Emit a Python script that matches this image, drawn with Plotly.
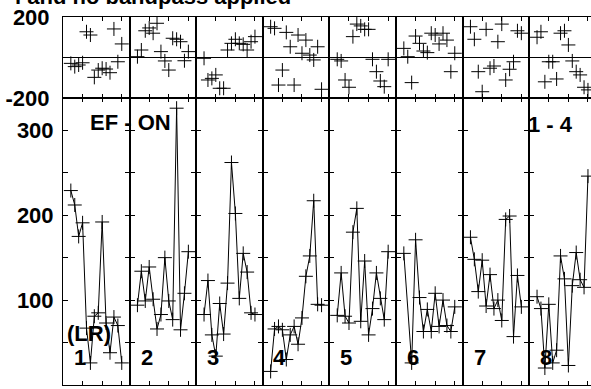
import plotly.graph_objects as go

# measurement slot index within each of the 8 panels
x_slots = list(range(2, 16))
x_slots6 = [2] + list(range(4, 16))

# bottom: amplitude series per panel
amp1 = [229, 212, 175, 191, 67, 26, 81, 85, 192, 73, 38, 80, 70, 26]
amp2 = [94, 134, 99, 139, 101, 66, 83, 150, 99, 77, 326, 65, 108, 157]
amp3 = [83, 123, 59, 34, 96, 60, 120, 262, 202, 102, 155, 133, 85, 83]
amp4 = [16, 66, 69, 65, 30, 59, 69, 48, 79, 128, 152, 217, 95, 94]
amp5 = [82, 132, 81, 73, 180, 208, 75, 146, 59, 90, 132, 102, 77, 157]
amp6 = [155, 26, 171, 103, 63, 89, 63, 108, 69, 100, 70, 63, 92]
amp7 = [174, 148, 110, 147, 93, 130, 90, 100, 76, 195, 199, 57, 129, 92]
amp8 = [104, 90, 20, 95, 26, 41, 152, 125, 23, 117, 156, 124, 115, 246]

# top: phase series per panel
ph1 = [-29, -45, -37, -26, 127, 111, -98, -62, -53, -57, -75, 141, -21, 67]
ph2 = [4, 37, 132, 146, 120, 169, 29, -17, -62, 95, 90, 78, -16, 29]
ph3 = [-4, -111, -103, -86, -152, -152, 37, 70, 90, 70, 65, 37, 78, 103]
ph4 = [152, 144, -136, -62, 124, 53, -136, 111, 21, 86, 12, -12, 53, -157]
ph5 = [-9, -17, -111, -147, 103, 165, 156, 139, 139, -9, -70, -116, -144, -9]
ph6 = [45, 4, -124, 106, 70, 32, 24, 120, 111, 67, 120, 86, -70, 21]
ph7 = [152, 90, -70, -169, 139, -53, -42, 78, 165, -111, -58, -21, 132, 120]
ph8 = [100, 127, -120, -21, -21, -106, 120, 132, 62, -17, -70, -86, -147, -160]

amps = [amp1, amp2, amp3, amp4, amp5, amp6, amp7, amp8]
phases = [ph1, ph2, ph3, ph4, ph5, ph6, ph7, ph8]
amp_x = [x_slots, x_slots, x_slots, x_slots, x_slots, x_slots6, x_slots, x_slots]
panel_labels = ["1", "2", "3", "4", "5", "6", "7", "8"]

amp_ticks = [0, 50, 100, 150, 200, 250, 300]
amp_ticktext = ["0", "", "100", "", "200", "", "300"]
ph_ticks = [-200, 200]
ph_ticktext = ["-200", "200"]
slot_ticks = [0, 5, 10, 15]

title_text = "l and no bandpass applied"

W, H = 591, 389
ML, MR, MT, MB = 63, 0, 17, 4
PW = W - ML - MR
PH = H - MT - MB
panel_px = 66.6
units = 17.0
split = 287.0 / PH

FONT = dict(family="Liberation Sans, Arial, sans-serif", size=22, color="black", weight="bold")

fig = go.Figure()
layout = dict(
    width=W, height=H,
    margin=dict(l=ML, r=MR, t=MT, b=MB, autoexpand=False),
    paper_bgcolor="white", plot_bgcolor="white",
    showlegend=False,
    font=FONT,
)

marker = dict(symbol="cross-thin", size=10, color="black", line=dict(color="black", width=1))

for i in range(8):
    left = panel_px * i / PW
    right = min(panel_px * (i + 1) / PW, 1.0)
    xr = units if right < 1.0 else (PW - panel_px * i) / panel_px * units
    last = (i == 7)
    bx, by = f"x{i+1}", f"y{i+1}"
    tx, ty = f"x{i+9}", f"y{i+9}"
    fig.add_trace(go.Scatter(x=amp_x[i], y=amps[i], mode="lines+markers",
                             line=dict(color="black", width=1), marker=marker,
                             xaxis=bx, yaxis=by, cliponaxis=False))
    fig.add_trace(go.Scatter(x=x_slots, y=phases[i], mode="markers", marker=marker,
                             xaxis=tx, yaxis=ty, cliponaxis=False))
    common_x = dict(range=[0, xr], showline=True, linecolor="black", linewidth=1,
                    mirror="ticks", ticks="inside", tickvals=slot_ticks, ticklen=4,
                    tickcolor="black", tickwidth=1, showticklabels=False,
                    showgrid=False, zeroline=False, domain=[left, right],
                    automargin=False)
    layout[f"xaxis{i+1}"] = dict(common_x, anchor=by)
    layout[f"xaxis{i+9}"] = dict(common_x, anchor=ty)
    layout[f"yaxis{i+1}"] = dict(
        domain=[0, split], range=[0, 338], anchor=bx,
        showline=True, linecolor="black", linewidth=1,
        mirror=False if last else "ticks",
        ticks="inside", tickvals=amp_ticks, ticktext=amp_ticktext, ticklen=5,
        tickcolor="black", tickwidth=1, showticklabels=(i == 0),
        tickfont=FONT, ticklabelstandoff=4, automargin=False,
        showgrid=False, zeroline=False)
    layout[f"yaxis{i+9}"] = dict(
        domain=[split, 1], range=[-200, 200], anchor=tx,
        showline=True, linecolor="black", linewidth=1,
        mirror=False if last else True,
        ticks="", tickvals=ph_ticks, ticktext=ph_ticktext,
        showticklabels=(i == 0), tickfont=FONT, ticklabelstandoff=8,
        automargin=False,
        showgrid=False, zeroline=True, zerolinecolor="black", zerolinewidth=1)

def px_to_paper(X, Y):
    return (X - ML) / PW, (H - MB - Y) / PH

annotations = []
for i, lab in enumerate(panel_labels):
    px, py = px_to_paper(ML + panel_px * i + 17, 357)
    annotations.append(dict(text=lab, x=px, y=py, xref="paper", yref="paper",
                            showarrow=False, font=FONT, xanchor="center", yanchor="middle"))
for txt, X, Y in [("EF - ON", 130, 123), ("1 - 4", 550, 124), ("(LR)", 89, 333)]:
    px, py = px_to_paper(X, Y)
    annotations.append(dict(text=txt, x=px, y=py, xref="paper", yref="paper",
                            showarrow=False, font=FONT, xanchor="center", yanchor="middle"))
tx_, ty_ = px_to_paper(293, -3)
annotations.append(dict(text=title_text, x=tx_, y=ty_, xref="paper", yref="paper",
                        showarrow=False, font=FONT, xanchor="right", yanchor="middle"))
layout["annotations"] = annotations

fig.update_layout(**layout)
fig.write_html("out.html", config={"displayModeBar": False},
               post_script="document.body.style.margin='0';document.body.style.overflow='hidden';")
